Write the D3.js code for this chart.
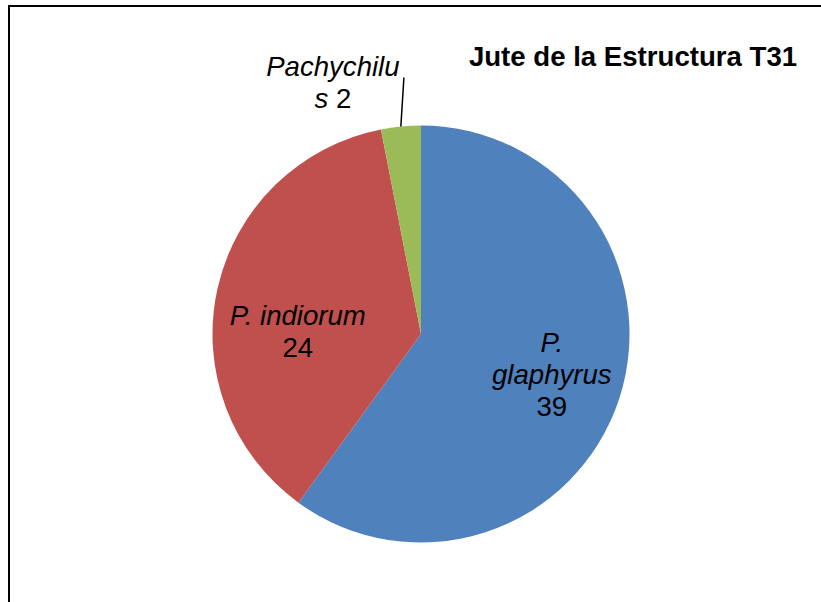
<!DOCTYPE html>
<html>
<head>
<meta charset="utf-8">
<script src="https://cdnjs.cloudflare.com/ajax/libs/d3/7.8.5/d3.min.js"></script>
<style>
  html, body { margin: 0; padding: 0; background: #fff; }
  svg { display: block; font-family: "Liberation Sans", Arial, sans-serif; }
</style>
</head>
<body>
<svg id="chart" width="821" height="602"></svg>
<script>
// Species counts collected at structure T31
const categories = ["P. glaphyrus", "P. indiorum", "Pachychilus"];
const values = [39, 24, 2];
const labelLines = [["P.", "glaphyrus", "39"], ["P. indiorum", "24"], ["Pachychilu", "s 2"]];
const colors = ["#4F81BD", "#C0504D", "#9BBB59"];
const title = "Jute de la Estructura T31";

const svg = d3.select("#chart");

// outer chart border (runs past the right and bottom edges)
svg.append("rect")
  .attr("x", 9).attr("y", 6)
  .attr("width", 900).attr("height", 700)
  .attr("fill", "none").attr("stroke", "#000").attr("stroke-width", 2);

svg.append("text")
  .attr("x", 633).attr("y", 66)
  .attr("text-anchor", "middle")
  .attr("font-size", 27.6).attr("font-weight", "bold")
  .text(title);

const cx = 421, cy = 334, R = 208.5;
const g = svg.append("g").attr("transform", `translate(${cx},${cy})`);

const pie = d3.pie().sort(null).value(d => d)
  .startAngle(0).endAngle(2 * Math.PI);
const arcs = pie(values);
const arc = d3.arc().innerRadius(0).outerRadius(R);

g.selectAll("path.slice")
  .data(arcs)
  .join("path")
  .attr("class", "slice")
  .attr("d", arc)
  .attr("fill", (d, i) => colors[i]);

// label placement: inside labels sit near the centroid, the small slice gets a leader line
const lineH = 32;
const fontSize = 27.6;
const placement = [
  { r: 0.7, dx: -8, dy: -5, inside: true },
  { r: 0.6, dx: -1, dy: 25, inside: true },
  { r: 1.0, inside: false, lineTo: [3, -49], text: [-68, -44] }
];

arcs.forEach((d, i) => {
  const p = placement[i];
  const a = (d.startAngle + d.endAngle) / 2;
  const px = p.r * R * Math.sin(a);
  const py = -p.r * R * Math.cos(a);
  let tx, ty;
  if (p.inside) {
    tx = px + p.dx; ty = py + p.dy;
  } else {
    g.append("line")
      .attr("x1", px).attr("y1", py)
      .attr("x2", px + p.lineTo[0]).attr("y2", py + p.lineTo[1])
      .attr("stroke", "#000").attr("stroke-width", 1.5);
    tx = px + p.text[0]; ty = py + p.text[1];
  }
  const lines = labelLines[i];
  const n = lines.length;
  const text = g.append("text")
    .attr("text-anchor", "middle")
    .attr("font-size", fontSize)
    .attr("fill", "#000");
  lines.forEach((ln, k) => {
    const isNum = /^\d+$/.test(ln);
    const base = ty + (k - (n - 1) / 2) * lineH + 9.45;
    if (ln === "s 2") {
      const t = text.append("tspan").attr("x", tx).attr("y", base);
      t.append("tspan").attr("font-style", "italic").text("s");
      t.append("tspan").text(" 2");
    } else {
      text.append("tspan")
        .attr("x", tx).attr("y", base)
        .attr("font-style", isNum ? "normal" : "italic")
        .text(ln);
    }
  });
});
</script>
</body>
</html>
